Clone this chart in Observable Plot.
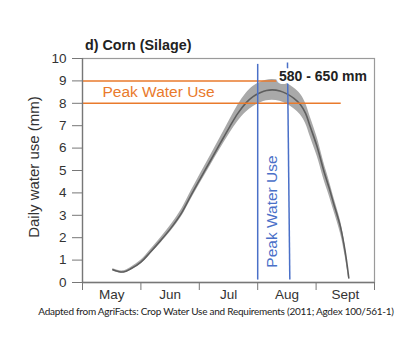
<!DOCTYPE html>
<html>
<head>
<meta charset="utf-8">
<script src="https://cdn.jsdelivr.net/npm/d3@7"></script>
<script src="https://cdn.jsdelivr.net/npm/@observablehq/plot@0.6"></script>
<style>
  body { margin: 0; background: #fff; }
  #wrap { position: relative; width: 405px; height: 356px; overflow: hidden; background: #fff; }
  #wrap svg { position: absolute; left: 0; top: 0; }
  #title { position: absolute; left: 85px; top: 37.5px; font: bold 14.3px/14px "Liberation Sans", Arial, sans-serif; color: #222; white-space: nowrap; }
  #caption { position: absolute; left: 0; width: 432px; top: 306px; text-align: center; font: 10px/10px Lato, "Open Sans", sans-serif; letter-spacing: -0.25px; color: #222; white-space: nowrap; }
</style>
</head>
<body>
<div id="wrap">
  <div id="title"></div>
  <div id="caption"></div>
</div>
<script>
// ---- data (x: months elapsed since 1 May; y: mm/day) ----
const months = ["May", "Jun", "Jul", "Aug", "Sept"];
const monthEdges = [0, 1, 2, 3, 4, 5];
const monthMids = [0.5, 1.5, 2.5, 3.5, 4.5];
const yTicks = [0, 1, 2, 3, 4, 5, 6, 7, 8, 9, 10];

const curveX = [0.52, 0.6, 0.7, 0.82, 1.0, 1.16, 1.34, 1.52, 1.7, 1.86, 2.02, 2.2, 2.36, 2.52, 2.66, 2.8, 2.92, 3.05, 3.15, 3.25, 3.38, 3.5, 3.62, 3.73, 3.82, 3.9, 4.02, 4.13, 4.22, 4.3, 4.42, 4.5, 4.56];
const curveMid = [0.57, 0.50, 0.47, 0.60, 0.91, 1.35, 1.88, 2.45, 3.12, 3.90, 4.65, 5.48, 6.22, 6.95, 7.55, 8.02, 8.30, 8.48, 8.57, 8.60, 8.55, 8.42, 8.22, 7.95, 7.55, 6.95, 6.04, 5.00, 4.25, 3.53, 2.45, 1.35, 0.20];
const curveLow = [0.52, 0.45, 0.42, 0.54, 0.83, 1.25, 1.76, 2.31, 2.96, 3.72, 4.45, 5.26, 5.97, 6.65, 7.19, 7.60, 7.85, 8.02, 8.11, 8.14, 8.09, 7.96, 7.76, 7.49, 7.10, 6.51, 5.62, 4.62, 3.91, 3.23, 2.17, 1.13, 0.15];
const curveHigh = [0.62, 0.55, 0.52, 0.66, 0.99, 1.45, 2.00, 2.59, 3.28, 4.08, 4.85, 5.70, 6.47, 7.25, 7.91, 8.44, 8.75, 8.94, 9.03, 9.06, 9.01, 8.88, 8.68, 8.41, 8.00, 7.39, 6.46, 5.38, 4.59, 3.83, 2.73, 1.57, 0.25];

// peak water use range (mm/day) and its reference lines
const peakLevels = [9, 8];
const peakLineEnd = [3.33, 4.43];
// peak water use period (vertical lines)
const peakPeriod = [
  {x1: 3.00, x2: 3.00, y1: 9.76, y2: 0.13},
  {x1: 3.51, x2: 3.55, y1: 9.82, y2: 0.13}
];
const titleText = "d) Corn (Silage)";
const yLabel = "Daily water use (mm)";
const peakLabel = "Peak Water Use";
const seasonTotal = "580 - 650 mm";
const captionText = "Adapted from AgriFacts: Crop Water Use and Requirements (2011; Agdex 100/561-1)";

const curve = curveX.map((x, i) => ({x, y: curveMid[i], lo: curveLow[i], hi: curveHigh[i]}));
const orange = "#e97a2c";
const blue = "#4a70c8";

const chart = Plot.plot({
  width: 405,
  height: 356,
  marginLeft: 82,
  marginRight: 31,
  marginTop: 58,
  marginBottom: 74,
  x: {domain: [0, 5]},
  y: {domain: [0, 10]},
  style: {fontFamily: "'Liberation Sans', Arial, sans-serif", fontSize: "13px", color: "#333", background: "transparent"},
  marks: [
    Plot.frame({stroke: "#9a9a9a", strokeWidth: 1.2}),
    Plot.areaY(curve, {x: "x", y1: "lo", y2: "hi", fill: "#a9a9a9", curve: "catmull-rom"}),
    Plot.line(curve, {x: "x", y: "y", stroke: "#5e5e5e", strokeWidth: 1.6, curve: "catmull-rom"}),
    Plot.ruleY(peakLevels, {y: d => d, x1: 0, x2: (d, i) => peakLineEnd[i], stroke: orange, strokeWidth: 1.5}),
    Plot.link(peakPeriod, {x1: "x1", x2: "x2", y1: "y1", y2: "y2", stroke: blue, strokeWidth: 1.5}),
    Plot.axisY({ticks: yTicks, tickSize: 10, tickPadding: 6, label: null, stroke: "#777", fontSize: 13.5}),
    Plot.axisX({ticks: monthEdges, tickSize: 8, tickFormat: () => "", label: null, stroke: "#777"}),
    Plot.axisX({ticks: monthMids, tickSize: 0, tickPadding: 7, tickFormat: (d, i) => months[i], label: null, fontSize: 13.5}),
    Plot.ruleX([0], {stroke: "#777", strokeWidth: 1.3}),
    Plot.ruleY([0], {stroke: "#777", strokeWidth: 1.3}),
    Plot.text([peakLabel], {x: 0.342, y: 8.5, text: d => d, textAnchor: "start", lineAnchor: "middle", fill: orange, fontSize: 15.5}),
    Plot.text([peakLabel], {x: 3.245, y: 3.17, text: d => d, rotate: -90, textAnchor: "middle", lineAnchor: "middle", fill: blue, fontSize: 15.5}),
    Plot.text([seasonTotal], {x: 3.365, y: 9.19, text: d => d, textAnchor: "start", lineAnchor: "middle", fill: "#222", fontWeight: "bold", fontSize: 14, stroke: "white", strokeWidth: 6, paintOrder: "stroke"}),
    Plot.text([yLabel], {frameAnchor: "left", text: d => d, rotate: -90, dx: -48, dy: -3.5, textAnchor: "middle", lineAnchor: "middle", fill: "#333", fontSize: 15})
  ]
});

const wrap = document.getElementById("wrap");
wrap.insertBefore(chart, wrap.firstChild);
document.getElementById("title").textContent = titleText;
document.getElementById("caption").textContent = captionText;
</script>
</body>
</html>
